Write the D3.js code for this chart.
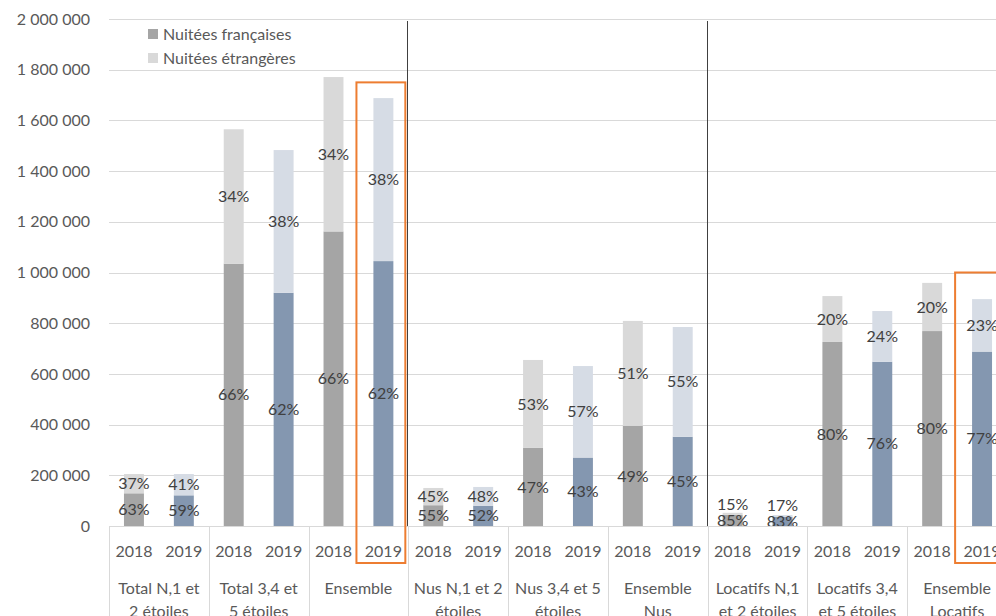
<!DOCTYPE html>
<html>
<head>
<meta charset="utf-8">
<script src="https://cdn.jsdelivr.net/npm/d3@7"></script>
<style>
  body { margin: 0; background: #fff; }
  svg { display: block; font-family: Lato, "Open Sans", sans-serif; }
</style>
</head>
<body>
<script>
// groups of the category axis (two lines each)
const groups = [
    ["Total N,1 et", "2 étoiles"],
    ["Total 3,4 et", "5 étoiles"],
    ["Ensemble"],
    ["Nus N,1 et 2", "étoiles"],
    ["Nus 3,4 et 5", "étoiles"],
    ["Ensemble", "Nus"],
    ["Locatifs N,1", "et 2 étoiles"],
    ["Locatifs 3,4", "et 5 étoiles"],
    ["Ensemble", "Locatifs"]
];
const years = ["2018", "2019"];

// one value per bar, in order group by group, 2018 then 2019
const frValues = [129000, 121000, 1035000, 920000, 1162000, 1045000,
    82000, 80000, 308000, 270000, 395000, 352000,
    44000, 36000, 726000, 648000, 769000, 688000];
const etValues = [76000, 84000, 530000, 563000, 609000, 643000,
    68000, 74000, 347000, 361000, 414000, 433000,
    8000, 7000, 181000, 200000, 190000, 207000];
const frPct = [63, 59, 66, 62, 66, 62, 55, 52, 47, 43, 49, 45, 85, 83, 80, 76, 80, 77];
const etPct = [37, 41, 34, 38, 34, 38, 45, 48, 53, 57, 51, 55, 15, 17, 20, 24, 20, 23];

const yTicks = [0, 200000, 400000, 600000, 800000, 1000000, 1200000, 1400000, 1600000, 1800000, 2000000];
const legendItems = ["Nuitées françaises", "Nuitées étrangères"];

// highlighted bars (index of bar, top of the frame as a value)
const highlights = [
    { bar: 5, top: 1750000 },
    { bar: 17, top: 1000000 }
];
// dark separators between sections (after group index)
const sections = [3, 6];

const colors = {
    "2018": { fr: "#A5A5A5", et: "#D9D9D9" },
    "2019": { fr: "#8497B0", et: "#D6DCE5" }
};

const width = 996, height = 616;
const margin = { left: 109, top: 19, bottom: 90 };
const plotRight = 1007;
const baseY = height - margin.bottom; // 526

const bars = [];
groups.forEach((g, gi) => {
    years.forEach((yr, yi) => {
        const i = gi * 2 + yi;
        bars.push({
            key: gi + "-" + yr, group: gi, year: yr,
            fr: frValues[i], et: etValues[i],
            frPct: frPct[i], etPct: etPct[i]
        });
    });
});

const svg = d3.select("body").append("svg")
    .attr("width", width)
    .attr("height", height);

const x = d3.scaleBand()
    .domain(bars.map(d => d.key))
    .range([margin.left, plotRight])
    .paddingInner(0.6)
    .paddingOuter(0.3);
const step = x.step();
const slotX = k => x(k) - step * 0.3;

const y = d3.scaleLinear()
    .domain([0, 2000000])
    .range([baseY, margin.top]);

// gridlines
svg.append("g")
    .selectAll("line")
    .data(yTicks)
    .join("line")
    .attr("x1", margin.left)
    .attr("x2", width)
    .attr("y1", d => Math.round(y(d)) + 0.5)
    .attr("y2", d => Math.round(y(d)) + 0.5)
    .attr("stroke", "#D9D9D9")
    .attr("stroke-width", 1);

// y axis labels
const fmt = v => d3.format(",")(v).replace(/,/g, " ");
svg.append("g")
    .selectAll("text")
    .data(yTicks)
    .join("text")
    .attr("x", 90)
    .attr("y", d => y(d))
    .attr("dy", "0.35em")
    .attr("text-anchor", "end")
    .attr("fill", "#595959")
    .attr("font-size", 16)
    .text(fmt);

// stacked bars
const stack = d3.stack().keys(["fr", "et"]);
const series = stack(bars);

svg.append("g")
    .selectAll("g")
    .data(series)
    .join("g")
    .selectAll("rect")
    .data(s => s.map(d => ({ s: s.key, d })))
    .join("rect")
    .attr("x", e => x(e.d.data.key))
    .attr("width", x.bandwidth())
    .attr("y", e => y(e.d[1]))
    .attr("height", e => y(e.d[0]) - y(e.d[1]))
    .attr("fill", e => colors[e.d.data.year][e.s]);

// percent labels, centered in each segment
const labels = [];
bars.forEach(b => {
    const frY = (y(0) + y(b.fr)) / 2;
    let etY = (y(b.fr) + y(b.fr + b.et)) / 2;
    if (frY - etY < 16) etY = frY - 16;
    labels.push({ key: b.key, y: frY, text: b.frPct + "%" });
    labels.push({ key: b.key, y: etY, text: b.etPct + "%" });
});
svg.append("g")
    .selectAll("text")
    .data(labels)
    .join("text")
    .attr("x", d => x(d.key) + x.bandwidth() / 2)
    .attr("y", d => d.y)
    .attr("dy", "0.35em")
    .attr("text-anchor", "middle")
    .attr("fill", "#404040")
    .attr("font-size", 16)
    .text(d => d.text);

// category axis
const axis = svg.append("g");
axis.append("line")
    .attr("x1", margin.left).attr("x2", width)
    .attr("y1", baseY + 0.5).attr("y2", baseY + 0.5)
    .attr("stroke", "#D9D9D9");

axis.selectAll("line.sep")
    .data(d3.range(groups.length + 1))
    .join("line")
    .attr("class", "sep")
    .attr("x1", i => Math.round(margin.left + i * 2 * step) + 0.5)
    .attr("x2", i => Math.round(margin.left + i * 2 * step) + 0.5)
    .attr("y1", baseY)
    .attr("y2", height)
    .attr("stroke", "#D9D9D9");

axis.selectAll("text.year")
    .data(bars)
    .join("text")
    .attr("class", "year")
    .attr("x", d => x(d.key) + x.bandwidth() / 2)
    .attr("y", 551)
    .attr("dy", "0.35em")
    .attr("text-anchor", "middle")
    .attr("fill", "#595959")
    .attr("font-size", 16)
    .text(d => d.year);

axis.selectAll("text.group")
    .data(groups)
    .join("text")
    .attr("class", "group")
    .attr("x", (d, i) => margin.left + (i * 2 + 1) * step)
    .attr("y", 588)
    .attr("text-anchor", "middle")
    .attr("fill", "#595959")
    .attr("font-size", 16)
    .selectAll("tspan")
    .data(d => d)
    .join("tspan")
    .attr("x", function () { return d3.select(this.parentNode).attr("x"); })
    .attr("dy", (d, i) => i === 0 ? "0.35em" : "23")
    .text(d => d);

// section separators
svg.append("g")
    .selectAll("line")
    .data(sections)
    .join("line")
    .attr("x1", g => Math.round(margin.left + g * 2 * step) - 0.5)
    .attr("x2", g => Math.round(margin.left + g * 2 * step) - 0.5)
    .attr("y1", margin.top + 2)
    .attr("y2", baseY)
    .attr("stroke", "#404040")
    .attr("stroke-width", 1);

// highlight frames
svg.append("g")
    .selectAll("rect")
    .data(highlights)
    .join("rect")
    .attr("x", h => slotX(bars[h.bar].key) - 2)
    .attr("y", h => y(h.top))
    .attr("width", step - 1)
    .attr("height", h => 563 - y(h.top))
    .attr("fill", "none")
    .attr("stroke", "#ED7D31")
    .attr("stroke-width", 2);

// legend
const legend = svg.append("g");
legend.selectAll("rect")
    .data(legendItems)
    .join("rect")
    .attr("x", 148)
    .attr("y", (d, i) => 29 + i * 24)
    .attr("width", 10)
    .attr("height", 10)
    .attr("fill", (d, i) => i === 0 ? colors["2018"].fr : colors["2018"].et);
legend.selectAll("text")
    .data(legendItems)
    .join("text")
    .attr("x", 163)
    .attr("y", (d, i) => 34 + i * 24)
    .attr("dy", "0.35em")
    .attr("fill", "#595959")
    .attr("font-size", 16)
    .text(d => d);
</script>
</body>
</html>
